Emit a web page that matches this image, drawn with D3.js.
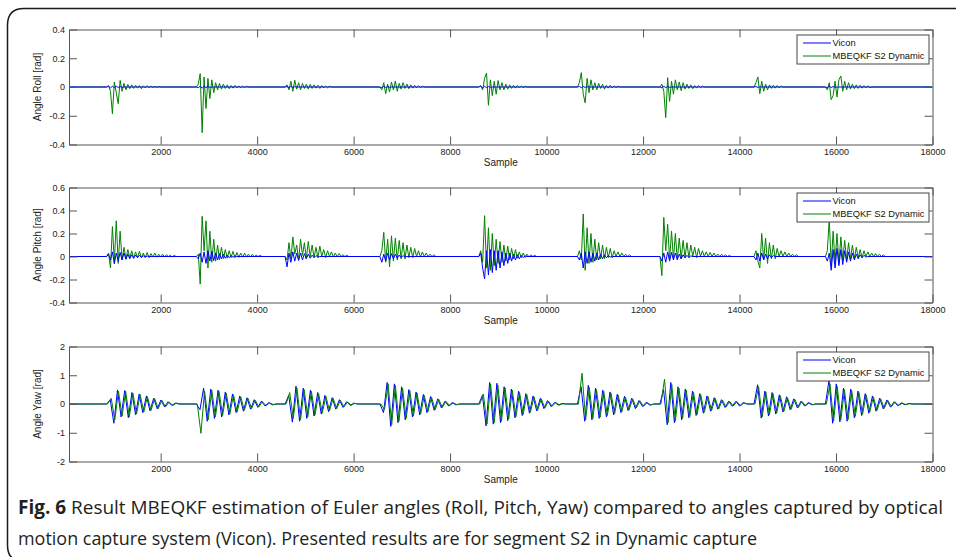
<!DOCTYPE html>
<html>
<head>
<meta charset="utf-8">
<script src="https://cdn.jsdelivr.net/npm/d3@7"></script>
<style>
  body { margin: 0; background: #fff; }
  svg { display: block; font-family: "Liberation Sans", Arial, sans-serif; }
</style>
</head>
<body>
<svg id="fig" width="956" height="557"></svg>
<script>
// sample axis
const sampleRange = [100, 18000];
const xTicks = [2000, 4000, 6000, 8000, 10000, 12000, 14000, 16000, 18000];
const seriesNames = ["Vicon", "MBEQKF S2 Dynamic"];

// start sample of each movement burst
const burstStarts = [880, 2740, 4580, 6545, 8595, 10640, 12350, 14300, 15780];
const yawEstStarts = [900, 2760, 4600, 6565, 8615, 10660, 12370, 14320, 15800];
const rollStep = 40, pitchStep = 40, yawStep = 75;

// roll [rad]
const rollTicks = [-0.4, -0.2, 0, 0.2, 0.4];
const rollTickLabels = ["-0.4", "-0.2", "0", "0.2", "0.4"];
const rollVicon = [
  [0, 0.004, -0.006, 0.005, -0.004, 0.005, -0.003, 0.003, -0.002, 0],
  [0, -0.005, 0.006, -0.008, 0.005, -0.004, 0.004, -0.003, 0],
  [0, 0.003, -0.004, 0.004, -0.003, 0.002, 0],
  [0, -0.004, 0.004, -0.003, 0.003, -0.002, 0],
  [0, 0.005, -0.006, 0.005, -0.004, 0.003, -0.002, 0],
  [0, 0.004, -0.005, 0.004, -0.003, 0.002, 0],
  [0, -0.005, 0.005, -0.004, 0.003, -0.002, 0],
  [0, 0.003, -0.003, 0.002, 0],
  [0, -0.004, 0.005, -0.004, 0.003, -0.002, 0]
];
const rollEst = [
  [0, 0.01, -0.03, -0.186, 0.035, -0.04, -0.116, 0.046, -0.03, 0.025, -0.02, 0.018, -0.012, 0.015, -0.01, 0.012, -0.008, 0.01, -0.012, 0.008, -0.006, 0.01, -0.005, 0.007, -0.004, 0.005, -0.003, 0.004, 0],
  [0, 0.02, 0.093, -0.318, 0.07, -0.15, 0.06, -0.08, 0.05, -0.04, 0.03, -0.02, 0.025, -0.015, 0.02, -0.01, 0.015, -0.012, 0.01, -0.008, 0.012, -0.006, 0.008, -0.005, 0.006, -0.004, 0.005, 0],
  [0, 0.015, -0.02, 0.04, -0.03, 0.047, -0.015, 0.03, -0.02, 0.025, -0.01, 0.02, -0.015, 0.018, -0.01, 0.015, -0.008, 0.012, -0.01, 0.01, -0.006, 0.008, -0.005, 0.006, 0],
  [0, -0.02, 0.03, -0.046, 0.02, -0.035, 0.035, -0.02, 0.042, -0.03, 0.025, -0.015, 0.03, -0.01, 0.02, -0.012, 0.015, -0.008, 0.012, -0.006, 0.01, -0.005, 0.006, 0],
  [0, 0.01, -0.02, 0.06, 0.097, -0.127, 0.05, -0.06, 0.04, -0.05, 0.045, -0.02, 0.03, -0.02, 0.02, -0.015, 0.015, -0.01, 0.012, -0.008, 0.01, -0.006, 0.008, -0.005, 0.006, 0],
  [0, 0.03, 0.1, -0.05, -0.11, 0.06, -0.04, 0.05, -0.02, 0.03, -0.02, 0.025, -0.01, 0.02, -0.015, 0.012, -0.008, 0.012, -0.006, 0.008, -0.005, 0.006, 0],
  [0, 0.02, -0.03, -0.213, 0.065, -0.1, 0.04, -0.05, 0.05, -0.02, 0.035, -0.025, 0.03, -0.015, 0.02, -0.01, 0.015, -0.012, 0.01, -0.008, 0.01, -0.005, 0.006, 0],
  [0, 0.03, 0.07, -0.046, 0.04, -0.03, 0.02, -0.02, 0.015, -0.01, 0.012, -0.008, 0.01, -0.006, 0.008, 0],
  [0, -0.02, 0.03, -0.088, -0.06, 0.04, -0.07, 0.05, 0.077, -0.03, 0.04, -0.02, 0.03, -0.015, 0.02, -0.012, 0.015, -0.01, 0.012, -0.008, 0.01, -0.006, 0.008, -0.005, 0]
];

// pitch [rad]
const pitchTicks = [-0.4, -0.2, 0, 0.2, 0.4, 0.6];
const pitchTickLabels = ["-0.4", "-0.2", "0", "0.2", "0.4", "0.6"];
const pitchVicon = [
  [0, 0.02, -0.03, 0.04, -0.064, 0.03, -0.04, 0.035, -0.03, 0.03, -0.025, 0.02, -0.02, 0.015, -0.015, 0.012, -0.01, 0.01, -0.008, 0.006, -0.005, 0.004, 0],
  [0, -0.02, 0.03, -0.05, 0.04, -0.06, 0.05, -0.04, 0.045, -0.035, 0.03, -0.03, 0.025, -0.02, 0.02, -0.015, 0.012, -0.01, 0.008, -0.006, 0.005, 0],
  [0, -0.09, 0.03, -0.05, 0.04, -0.04, 0.03, -0.035, 0.03, -0.03, 0.025, -0.02, 0.02, -0.015, 0.012, -0.01, 0.008, -0.005, 0],
  [0, -0.05, 0.02, -0.04, 0.03, -0.03, 0.025, -0.02, 0.02, -0.015, 0.012, -0.01, 0.008, -0.005, 0],
  [0, 0.03, -0.1, -0.195, 0.05, -0.16, 0.06, -0.14, 0.05, -0.12, 0.05, -0.1, 0.04, -0.08, 0.03, -0.06, 0.03, -0.04, 0.02, -0.03, 0.015, -0.02, 0.01, -0.01, 0.005, 0],
  [0, -0.03, 0.03, -0.1, 0.04, -0.06, 0.04, -0.05, 0.03, -0.04, 0.03, -0.03, 0.02, -0.02, 0.015, -0.01, 0.008, -0.005, 0],
  [0, -0.04, 0.03, -0.05, 0.04, -0.04, 0.035, -0.03, 0.03, -0.025, 0.02, -0.02, 0.015, -0.012, 0.01, -0.008, 0.005, 0],
  [0, -0.03, 0.03, -0.04, 0.03, -0.03, 0.02, -0.02, 0.015, -0.01, 0.008, 0],
  [0, -0.04, 0.03, -0.12, 0.06, -0.1, 0.07, -0.08, 0.06, -0.07, 0.05, -0.05, 0.04, -0.04, 0.03, -0.03, 0.02, -0.02, 0.015, -0.01, 0.01, -0.005, 0]
];
const pitchEst = [
  [0, 0.03, -0.1, 0.26, -0.05, 0.31, -0.06, 0.22, -0.03, 0.08, -0.02, 0.06, -0.01, 0.05, -0.015, 0.04, -0.01, 0.045, -0.01, 0.03, -0.008, 0.035, -0.01, 0.025, -0.005, 0.03, -0.006, 0.02, -0.004, 0.02, -0.005, 0.015, 0, 0.012, -0.003, 0.01, 0],
  [0, 0.02, -0.24, 0.35, 0.05, 0.31, -0.1, 0.22, -0.05, 0.15, -0.04, 0.1, -0.03, 0.08, -0.02, 0.06, -0.015, 0.05, -0.01, 0.045, -0.01, 0.035, -0.008, 0.03, -0.006, 0.028, -0.005, 0.02, -0.004, 0.018, -0.003, 0.012, 0, 0.01, 0],
  [0, -0.03, 0.12, -0.02, 0.17, 0.02, 0.1, -0.03, 0.15, 0.01, 0.12, -0.02, 0.13, 0, 0.1, -0.01, 0.08, -0.01, 0.09, 0, 0.06, -0.01, 0.05, 0, 0.04, -0.005, 0.03, 0, 0.025, 0, 0.015, 0, 0.01, 0],
  [0, 0.05, 0.21, -0.05, 0.15, -0.09, 0.18, -0.04, 0.16, -0.03, 0.14, -0.02, 0.12, -0.02, 0.1, -0.01, 0.08, -0.01, 0.07, 0, 0.05, -0.005, 0.04, 0, 0.03, 0, 0.02, 0, 0.015, 0],
  [0, 0.05, -0.05, 0.355, -0.1, 0.25, -0.12, 0.2, -0.08, 0.15, -0.06, 0.13, -0.05, 0.1, -0.04, 0.09, -0.03, 0.07, -0.02, 0.06, -0.015, 0.04, -0.01, 0.03, -0.008, 0.02, -0.005, 0.015, 0, 0.01, 0],
  [0, 0.05, -0.03, 0.37, -0.12, 0.25, -0.06, 0.2, -0.05, 0.15, -0.03, 0.12, -0.02, 0.1, -0.02, 0.08, -0.01, 0.07, -0.01, 0.05, 0, 0.04, 0, 0.03, 0, 0.02, 0, 0.015, 0],
  [0, -0.166, 0.34, 0.05, 0.28, -0.03, 0.22, -0.02, 0.2, -0.03, 0.16, -0.02, 0.14, -0.01, 0.12, -0.01, 0.1, 0, 0.08, -0.01, 0.07, 0, 0.05, 0, 0.04, 0, 0.035, 0, 0.03, 0, 0.02, 0, 0.02, 0, 0.015, 0, 0.01, 0],
  [0, 0.05, -0.04, -0.1, 0.2, -0.03, 0.16, -0.06, 0.12, -0.02, 0.1, -0.02, 0.07, 0, 0.05, 0, 0.04, 0, 0.03, 0, 0.02, 0, 0.015, 0],
  [0, 0.05, 0.33, -0.08, 0.22, -0.05, 0.2, -0.06, 0.17, -0.03, 0.14, -0.03, 0.12, -0.02, 0.1, -0.02, 0.08, -0.01, 0.06, -0.01, 0.05, 0, 0.04, 0, 0.03, 0, 0.025, 0, 0.02, 0, 0.015, 0]
];

// yaw [rad]
const yawTicks = [-2, -1, 0, 1, 2];
const yawTickLabels = ["-2", "-1", "0", "1", "2"];
const yawVicon = [
  [0, 0.15, -0.67, 0.49, -0.45, 0.47, -0.48, 0.4, -0.37, 0.35, -0.3, 0.28, -0.24, 0.2, -0.17, 0.14, -0.1, 0.08, -0.05, 0.03, 0],
  [0, -0.2, 0.55, -0.6, 0.52, -0.5, 0.48, -0.45, 0.42, -0.38, 0.35, -0.3, 0.28, -0.25, 0.22, -0.18, 0.15, -0.12, 0.1, -0.07, 0.05, -0.03, 0],
  [0, 0.3, -0.63, 0.62, -0.6, 0.55, -0.5, 0.48, -0.42, 0.4, -0.35, 0.3, -0.27, 0.22, -0.18, 0.15, -0.12, 0.08, -0.05, 0.03, 0],
  [0, -0.3, 0.75, -0.78, 0.7, -0.65, 0.6, -0.55, 0.5, -0.45, 0.42, -0.38, 0.33, -0.3, 0.26, -0.22, 0.18, -0.14, 0.1, -0.07, 0.05, -0.03, 0],
  [0, 0.3, -0.76, 0.75, -0.7, 0.72, -0.65, 0.6, -0.58, 0.52, -0.48, 0.45, -0.4, 0.36, -0.32, 0.28, -0.24, 0.2, -0.16, 0.12, -0.09, 0.06, -0.04, 0.02, 0],
  [0, 0.6, -0.6, 0.65, -0.55, 0.55, -0.5, 0.48, -0.45, 0.42, -0.38, 0.34, -0.3, 0.27, -0.23, 0.2, -0.16, 0.12, -0.09, 0.06, -0.04, 0],
  [0, 0.5, -0.72, 0.75, -0.65, 0.6, -0.55, 0.52, -0.48, 0.45, -0.4, 0.36, -0.32, 0.28, -0.25, 0.22, -0.18, 0.15, -0.12, 0.1, -0.08, 0.1, -0.07, 0.05, 0],
  [0, 0.67, -0.49, 0.45, -0.42, 0.4, -0.35, 0.32, -0.28, 0.25, -0.2, 0.18, -0.14, 0.1, -0.07, 0.05, -0.03, 0],
  [0, 0.82, -0.67, 0.7, -0.62, 0.55, -0.6, 0.52, -0.48, 0.45, -0.4, 0.36, -0.32, 0.28, -0.25, 0.2, -0.17, 0.14, -0.11, 0.08, -0.06, 0.04, -0.03, 0.02, 0]
];
const yawEst = [
  [0, 0.2, -0.55, 0.45, -0.42, 0.44, -0.45, 0.38, -0.35, 0.33, -0.28, 0.26, -0.22, 0.19, -0.16, 0.13, -0.1, 0.07, -0.05, 0.03, 0],
  [0, -1.02, 0.45, -0.55, 0.48, -0.45, 0.44, -0.4, 0.38, -0.35, 0.32, -0.28, 0.25, -0.22, 0.2, -0.16, 0.13, -0.1, 0.08, -0.06, 0.04, -0.02, 0],
  [0, 0.4, -0.5, 0.56, -0.55, 0.5, -0.45, 0.44, -0.38, 0.36, -0.32, 0.27, -0.24, 0.2, -0.16, 0.13, -0.1, 0.07, -0.04, 0.02, 0],
  [0, -0.2, 0.7, -0.72, 0.65, -0.6, 0.55, -0.5, 0.47, -0.42, 0.38, -0.35, 0.3, -0.27, 0.24, -0.2, 0.16, -0.12, 0.09, -0.06, 0.04, -0.02, 0],
  [0, 0.35, -0.7, 0.7, -0.65, 0.66, -0.6, 0.56, -0.52, 0.48, -0.44, 0.4, -0.36, 0.33, -0.29, 0.25, -0.22, 0.18, -0.14, 0.1, -0.08, 0.05, -0.03, 0.01, 0],
  [0, 1.07, -0.55, 0.58, -0.5, 0.5, -0.46, 0.44, -0.4, 0.38, -0.34, 0.31, -0.27, 0.24, -0.21, 0.18, -0.14, 0.11, -0.08, 0.05, -0.03, 0],
  [0, 0.86, -0.65, 0.68, -0.6, 0.55, -0.5, 0.48, -0.44, 0.41, -0.37, 0.33, -0.29, 0.26, -0.23, 0.2, -0.17, 0.14, -0.11, 0.09, -0.07, 0.08, -0.06, 0.04, 0],
  [0, 0.6, -0.45, 0.42, -0.38, 0.36, -0.32, 0.29, -0.25, 0.22, -0.18, 0.16, -0.12, 0.09, -0.06, 0.04, -0.02, 0],
  [0, 0.7, -0.6, 0.62, -0.55, 0.5, -0.54, 0.47, -0.43, 0.4, -0.36, 0.32, -0.28, 0.25, -0.22, 0.18, -0.15, 0.12, -0.09, 0.07, -0.05, 0.03, -0.02, 0.01, 0]
];

const captionBold = "Fig. 6";
const captionLine1 = " Result MBEQKF estimation of Euler angles (Roll, Pitch, Yaw) compared to angles captured by optical";
const captionLine2 = "motion capture system (Vicon). Presented results are for segment S2 in Dynamic capture";

// turn bursts into [sample, value] points
function buildSeries(starts, bursts, step) {
  let pts = [[sampleRange[0], 0]];
  bursts.forEach((b, k) => {
    b.forEach((v, i) => pts.push([starts[k] + i * step, v]));
  });
  pts.push([sampleRange[1], 0]);
  return pts;
}

const panels = [
  {label: "Angle Roll [rad]", domain: [-0.4, 0.4], ticks: rollTicks, tickLabels: rollTickLabels, estOnTop: false,
   vicon: buildSeries(burstStarts, rollVicon, rollStep), est: buildSeries(burstStarts, rollEst, rollStep)},
  {label: "Angle Pitch [rad]", domain: [-0.4, 0.6], ticks: pitchTicks, tickLabels: pitchTickLabels, estOnTop: false,
   vicon: buildSeries(burstStarts, pitchVicon, pitchStep), est: buildSeries(burstStarts, pitchEst, pitchStep)},
  {label: "Angle Yaw [rad]", domain: [-2, 2], ticks: yawTicks, tickLabels: yawTickLabels, estOnTop: true,
   vicon: buildSeries(burstStarts, yawVicon, yawStep), est: buildSeries(yawEstStarts, yawEst, yawStep)}
];

const svg = d3.select("#fig");
const left = 69, right = 932.5, panelH = 115;
const tops = [29.5, 187.5, 346.5];
const colVicon = "#0000ff", colEst = "#008000";

// outer frame with rounded left corners
svg.append("path")
  .attr("d", "M956,8.5 H24 Q7.5,8.5 7.5,25 V545 Q7.5,561 22,561")
  .attr("fill", "none").attr("stroke", "#1a1a1a").attr("stroke-width", 1.5);

let x = d3.scaleLinear().domain(sampleRange).range([left, right]);

panels.forEach((p, i) => {
  let top = tops[i];
  let y = d3.scaleLinear().domain(p.domain).range([top + panelH, top]);
  let g = svg.append("g");

  g.append("clipPath").attr("id", "clip" + i)
    .append("rect").attr("x", left).attr("y", top).attr("width", right - left).attr("height", panelH);

  let line = d3.line().x(d => x(d[0])).y(d => y(d[1]));
  let plot = g.append("g").attr("clip-path", "url(#clip" + i + ")");
  let order = p.estOnTop ? [[p.vicon, colVicon], [p.est, colEst]] : [[p.est, colEst], [p.vicon, colVicon]];
  order.forEach(o => {
    plot.append("path").datum(o[0])
      .attr("d", line).attr("fill", "none").attr("stroke", o[1]).attr("stroke-width", 1);
  });

  // axes, MATLAB style ticks inside
  let axCol = "#555";
  g.append("g").attr("transform", "translate(0," + (top + panelH) + ")")
    .call(d3.axisBottom(x).tickValues(xTicks).tickFormat(d3.format("d")).tickSizeInner(-8).tickSizeOuter(0).tickPadding(4))
    .call(a => a.selectAll("text").attr("font-size", 9).attr("fill", "#222"));
  g.append("g").attr("transform", "translate(0," + top + ")")
    .call(d3.axisTop(x).tickValues(xTicks).tickFormat("").tickSizeInner(-8).tickSizeOuter(0));
  g.append("g").attr("transform", "translate(" + left + ",0)")
    .call(d3.axisLeft(y).tickValues(p.ticks).tickFormat((d, k) => p.tickLabels[k]).tickSizeInner(-8).tickSizeOuter(0).tickPadding(4))
    .call(a => a.selectAll("text").attr("font-size", 9).attr("fill", "#222"));
  g.append("g").attr("transform", "translate(" + right + ",0)")
    .call(d3.axisRight(y).tickValues(p.ticks).tickFormat("").tickSizeInner(-8).tickSizeOuter(0));
  g.selectAll(".domain, .tick line").attr("stroke", axCol);
  g.selectAll("g").attr("font-family", null);

  // axis titles
  g.append("text").attr("x", (left + right) / 2).attr("y", top + panelH + 21)
    .attr("text-anchor", "middle").attr("font-size", 10).attr("fill", "#222").text("Sample");
  g.append("text").attr("transform", "translate(41," + (top + panelH / 2) + ") rotate(-90)")
    .attr("text-anchor", "middle").attr("font-size", 10).attr("fill", "#222").text(p.label);

  // legend
  let lg = g.append("g").attr("transform", "translate(797," + (top + 5.5) + ")");
  lg.append("rect").attr("width", 132).attr("height", 29)
    .attr("fill", "#fff").attr("stroke", "#444").attr("stroke-width", 1);
  [colVicon, colEst].forEach((c, k) => {
    let ly = 8 + k * 13;
    lg.append("line").attr("x1", 6).attr("x2", 34).attr("y1", ly).attr("y2", ly)
      .attr("stroke", c).attr("stroke-width", 1);
    lg.append("text").attr("x", 35.5).attr("y", ly + 3.3).attr("font-size", 9.3).attr("fill", "#111")
      .text(seriesNames[k]);
  });
});

// caption
let cap1 = svg.append("text").attr("x", 18).attr("y", 514)
  .attr("font-family", "'Open Sans', 'Noto Sans', sans-serif").attr("font-size", 19).attr("fill", "#231f20")
  .attr("textLength", 925).attr("lengthAdjust", "spacingAndGlyphs");
cap1.append("tspan").attr("font-weight", 700).text(captionBold);
cap1.append("tspan").text(captionLine1);
svg.append("text").attr("x", 18).attr("y", 545)
  .attr("font-family", "'Open Sans', 'Noto Sans', sans-serif").attr("font-size", 19).attr("fill", "#231f20")
  .attr("textLength", 739).attr("lengthAdjust", "spacingAndGlyphs")
  .text(captionLine2);
</script>
</body>
</html>
